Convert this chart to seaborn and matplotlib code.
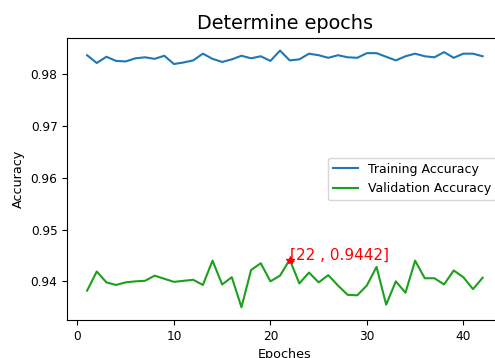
import matplotlib
matplotlib.use("Agg")
import matplotlib.pyplot as plt
import seaborn as sns
import pandas as pd

epochs = list(range(1, 43))
train_acc = [0.9837, 0.9822, 0.9834, 0.9826, 0.9825, 0.9831, 0.9833, 0.9830, 0.9836, 0.9820,
             0.9823, 0.9827, 0.9840, 0.9830, 0.9824, 0.9829, 0.9836, 0.9831, 0.9835, 0.9826,
             0.9846, 0.9827, 0.9829, 0.9840, 0.9837, 0.9832, 0.9837, 0.9833, 0.9832, 0.9841,
             0.9841, 0.9834, 0.9827, 0.9835, 0.9840, 0.9835, 0.9833, 0.9843, 0.9832, 0.9840,
             0.9840, 0.9835]
val_acc = [0.9382, 0.9419, 0.9398, 0.9393, 0.9398, 0.9400, 0.9401, 0.9411, 0.9405, 0.9399,
           0.9401, 0.9403, 0.9393, 0.9440, 0.9394, 0.9408, 0.9350, 0.9422, 0.9435, 0.9400,
           0.9411, 0.9442, 0.9396, 0.9417, 0.9398, 0.9412, 0.9392, 0.9374, 0.9373, 0.9392,
           0.9428, 0.9355, 0.9400, 0.9378, 0.9440, 0.9406, 0.9406, 0.9394, 0.9421, 0.9408,
           0.9385, 0.9407]
best_epoch = 22
best_val = 0.9442

df = pd.DataFrame({"epoch": epochs, "train": train_acc, "val": val_acc})

fig = plt.figure(figsize=(4.95, 3.58), dpi=100)
ax = fig.add_axes([0.136, 0.106, 0.879, 0.7886])

sns.lineplot(data=df, x="epoch", y="train", ax=ax, color="#1f77b4",
             linewidth=1.5, label="Training Accuracy")
sns.lineplot(data=df, x="epoch", y="val", ax=ax, color="#1ca01c",
             linewidth=1.5, label="Validation Accuracy")

# highlight the best validation epoch
ax.plot(best_epoch, best_val, marker="*", color="red", markersize=6)
ax.text(best_epoch, best_val, f"[{best_epoch} , {best_val}]", color="red", fontsize=11)

ax.set_title("Determine epochs", fontsize=13.9)
ax.set_xlabel("Epoches", fontsize=9.2)
ax.set_ylabel("Accuracy", fontsize=9.2)
ax.set_xticks([0, 10, 20, 30, 40])
ax.set_yticks([0.94, 0.95, 0.96, 0.97, 0.98])
ax.tick_params(labelsize=8.7)
ax.legend(loc="center right", fontsize=9)

fig.savefig("out.png", dpi=100)
